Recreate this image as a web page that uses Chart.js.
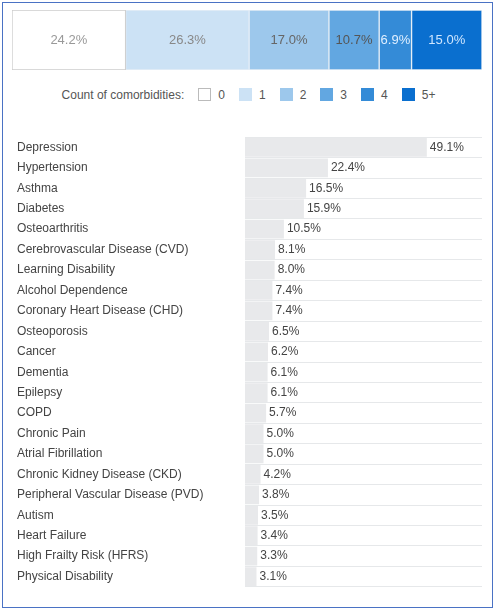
<!DOCTYPE html>
<html><head><meta charset="utf-8">
<script src="https://cdn.jsdelivr.net/npm/chart.js@4"></script>
<style>
body{margin:0;background:#fff;font-family:"Liberation Sans",Arial,sans-serif;}
#frame{position:absolute;left:2px;top:2px;width:491px;height:606px;border:1px solid #4a72c4;box-sizing:border-box;}
#top{position:absolute;left:12px;top:10px;width:470px;height:60px;}
#legend{position:absolute;left:0;top:88px;width:497px;text-align:center;font-size:12px;color:#555;}
#legend span.item{display:inline-block;margin-left:14px;}
#legend i{display:inline-block;width:13px;height:13px;vertical-align:-2px;margin-right:7px;box-sizing:border-box;}
#bottom{position:absolute;left:12px;top:130px;width:470px;height:464px;}
</style></head><body>
<div id="frame"></div>
<div id="top"><canvas id="c1"></canvas></div>
<div id="legend"></div>
<div id="bottom"><canvas id="c2"></canvas></div>
<script>
const groups=["0","1","2","3","4","5+"];
const groupValues=[24.2,26.3,17.0,10.7,6.9,15.0];
const groupColors=["#ffffff","#cce2f5","#9dc8ec","#62a7e1","#348bd7","#0a6fcf"];
const groupText=["#999","#888","#666","#555","#dfefff","#cfe6ff"];
const conditions=["Depression","Hypertension","Asthma","Diabetes","Osteoarthritis","Cerebrovascular Disease (CVD)","Learning Disability","Alcohol Dependence","Coronary Heart Disease (CHD)","Osteoporosis","Cancer","Dementia","Epilepsy","COPD","Chronic Pain","Atrial Fibrillation","Chronic Kidney Disease (CKD)","Peripheral Vascular Disease (PVD)","Autism","Heart Failure","High Frailty Risk (HFRS)","Physical Disability"];
const conditionValues=[49.1,22.4,16.5,15.9,10.5,8.1,8.0,7.4,7.4,6.5,6.2,6.1,6.1,5.7,5.0,5.0,4.2,3.8,3.5,3.4,3.3,3.1];
const FONT='"Liberation Sans",Arial,sans-serif';

const lg=document.getElementById('legend');
lg.innerHTML='Count of comorbidities:'+groups.map((g,i)=>`<span class="item"><i style="background:${groupColors[i]};border:1px solid ${i==0?'#bbb':groupColors[i]}"></i>${g}</span>`).join('');

new Chart(document.getElementById('c1'),{
 type:'bar',
 data:{labels:['all'],datasets:groups.map((g,i)=>({label:g,data:[groupValues[i]],backgroundColor:groupColors[i],borderColor:i==0?'#ccc':'#e6eef6',borderWidth:1,borderSkipped:false,barPercentage:1,categoryPercentage:1}))},
 options:{indexAxis:'y',responsive:true,maintainAspectRatio:false,animation:false,
  layout:{padding:0},
  plugins:{legend:{display:false},tooltip:{enabled:false}},
  scales:{x:{stacked:true,display:false,min:0,max:100.1},y:{stacked:true,display:false}}},
 plugins:[{id:'lbl',afterDatasetsDraw(ch){const c=ch.ctx;c.save();c.font='13px '+FONT;c.textAlign='center';c.textBaseline='middle';
  ch.data.datasets.forEach((d,i)=>{const el=ch.getDatasetMeta(i).data[0];c.fillStyle=groupText[i];c.fillText(d.data[0].toFixed(1)+'%',(el.base+el.x)/2,el.y);});c.restore();}}]
});

new Chart(document.getElementById('c2'),{
 type:'bar',
 data:{labels:conditions,datasets:[{data:conditionValues,backgroundColor:'#e8e9eb',barPercentage:0.92,categoryPercentage:1}]},
 options:{indexAxis:'y',responsive:true,maintainAspectRatio:false,animation:false,
  layout:{padding:{top:6,bottom:0,left:5}},
  plugins:{legend:{display:false},tooltip:{enabled:false}},
  scales:{x:{display:false,min:0,max:64},
   y:{afterFit(s){s.width=228;},border:{display:false},
    grid:{offset:true,color:'#e6e8ea',drawTicks:false},
    ticks:{crossAlign:'far',padding:0,color:'#444',font:{family:FONT,size:12}}}}},
 plugins:[{id:'val',afterDatasetsDraw(ch){const c=ch.ctx;c.save();c.font='12px '+FONT;c.fillStyle='#444';c.textBaseline='middle';
  ch.getDatasetMeta(0).data.forEach((el,i)=>{c.fillText(conditionValues[i].toFixed(1)+'%',el.x+3,el.y);});c.restore();}}]
});
</script></body></html>
